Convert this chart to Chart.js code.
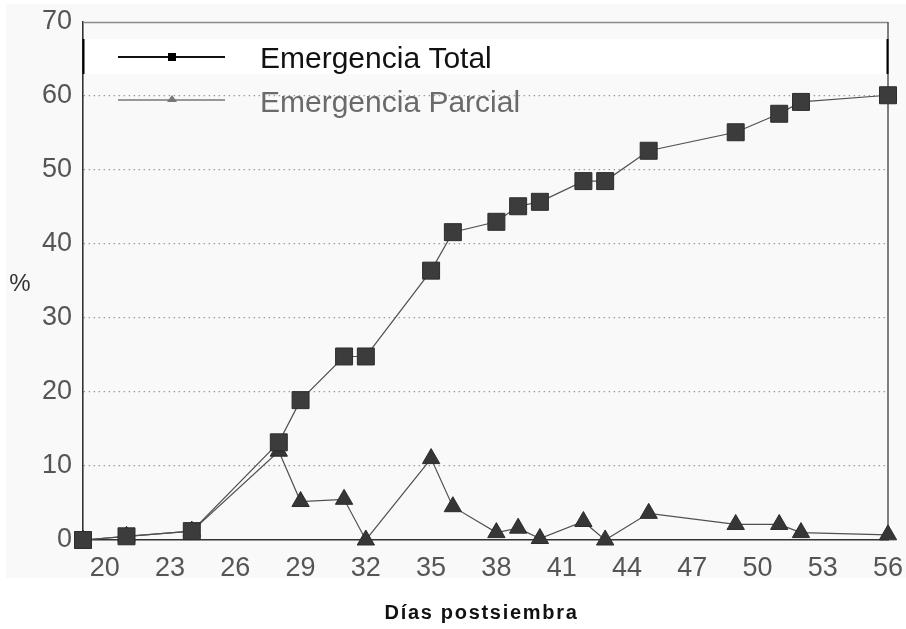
<!DOCTYPE html>
<html>
<head>
<meta charset="utf-8">
<script src="https://cdn.jsdelivr.net/npm/chart.js@4.4.1/dist/chart.umd.min.js"></script>
<style>
  html, body { margin: 0; padding: 0; background: #fff; }
  #wrap { width: 906px; height: 629px; }
</style>
</head>
<body>
<div id="wrap"><canvas id="myChart" width="906" height="629"></canvas></div>
<script>
/*************** data ***************/
const days = [19, 21, 24, 28, 29, 31, 32, 35, 36, 38, 39, 40, 42, 43, 45, 49, 51, 52, 56];
const totalValues = [0, 0.5, 1.2, 13.2, 18.9, 24.8, 24.8, 36.4, 41.6, 43, 45.1, 45.7, 48.5, 48.5, 52.6, 55.1, 57.6, 59.2, 60.1];
const partialValues = [0, 0.5, 1.2, 12, 5.2, 5.5, 0, 11, 4.5, 1, 1.6, 0.2, 2.5, 0, 3.6, 2.1, 2.1, 1, 0.7];
const xTicks = [20, 23, 26, 29, 32, 35, 38, 41, 44, 47, 50, 53, 56];
const yTicks = [0, 10, 20, 30, 40, 50, 60, 70];
const seriesNames = ["Emergencia Total", "Emergencia Parcial"];
const xTitle = "Días postsiembra";
const yTitle = "%";

/*************** helpers ***************/
function toPoints(xs, ys) {
  return xs.map((x, i) => ({ x: x, y: ys[i] }));
}

// background, frame, legend and titles
const paperPlugin = {
  id: "paper",
  beforeDraw(chart) {
    const c = chart.ctx;
    c.save();
    c.fillStyle = "#ffffff";
    c.fillRect(0, 0, chart.width, chart.height);
    c.fillStyle = "#f9f9f9";
    c.fillRect(6, 4, chart.width - 6, 574);
    c.restore();
  },
  beforeDatasetsDraw(chart) {
    const c = chart.ctx;
    const a = chart.chartArea;
    c.save();
    c.strokeStyle = "#8a8a8a";
    c.lineWidth = 1.3;
    c.beginPath();
    c.moveTo(a.left, a.top + 0.5);
    c.lineTo(a.right, a.top + 0.5);
    c.stroke();
    c.strokeStyle = "#555";
    c.lineWidth = 1.5;
    c.beginPath();
    c.moveTo(a.right, a.top);
    c.lineTo(a.right, a.bottom);
    c.stroke();
    c.restore();
  },
  afterDraw(chart) {
    const c = chart.ctx;
    const a = chart.chartArea;
    c.save();

    // legend box
    c.fillStyle = "#ffffff";
    c.fillRect(a.left, 39, a.right - a.left, 35);
    c.strokeStyle = "#000";
    c.lineWidth = 2;
    c.beginPath();
    c.moveTo(a.left + 0.5, 39);
    c.lineTo(a.left + 0.5, 74);
    c.moveTo(a.right - 0.5, 39);
    c.lineTo(a.right - 0.5, 74);
    c.stroke();

    // legend item 1
    c.strokeStyle = "#111";
    c.lineWidth = 2;
    c.beginPath();
    c.moveTo(118, 57);
    c.lineTo(225, 57);
    c.stroke();
    c.fillStyle = "#000";
    c.fillRect(168, 53, 8, 8);
    c.font = "30px 'Liberation Sans', Arial, sans-serif";
    c.textBaseline = "alphabetic";
    c.textAlign = "left";
    c.fillStyle = "#111";
    c.fillText(chart.data.datasets[0].label, 260, 68);

    // legend item 2
    c.strokeStyle = "#777";
    c.lineWidth = 1.5;
    c.beginPath();
    c.moveTo(118, 100);
    c.lineTo(225, 100);
    c.stroke();
    c.fillStyle = "#777";
    c.beginPath();
    c.moveTo(172, 95);
    c.lineTo(177, 102);
    c.lineTo(167, 102);
    c.closePath();
    c.fill();
    c.fillStyle = "#6a6a6a";
    c.fillText(chart.data.datasets[1].label, 260, 112);

    // y title
    c.font = "24px 'Liberation Sans', Arial, sans-serif";
    c.fillStyle = "#333";
    c.textAlign = "center";
    c.textBaseline = "middle";
    c.fillText(yTitle, 20, 284);

    // x title
    c.font = "bold 20px 'Liberation Sans', Arial, sans-serif";
    c.fillStyle = "#111";
    c.textBaseline = "alphabetic";
    c.letterSpacing = "1.7px";
    c.fillText(xTitle, (a.left + a.right) / 2 - 4, 619);
    c.restore();
  }
};

/*************** chart ***************/
const ctx = document.getElementById("myChart").getContext("2d");

new Chart(ctx, {
  type: "line",
  data: {
    datasets: [
      {
        label: seriesNames[0],
        data: toPoints(days, totalValues),
        borderColor: "#505050",
        borderWidth: 1.2,
        pointStyle: "rect",
        pointRadius: 12,
        pointBackgroundColor: "#3c3c3c",
        pointBorderColor: "#2c2c2c",
        pointBorderWidth: 1,
        tension: 0,
        clip: false
      },
      {
        label: seriesNames[1],
        data: toPoints(days, partialValues),
        borderColor: "#505050",
        borderWidth: 1.2,
        pointStyle: "triangle",
        pointRadius: 10,
        pointBackgroundColor: "#363636",
        pointBorderColor: "#2c2c2c",
        pointBorderWidth: 1,
        tension: 0,
        clip: false
      }
    ]
  },
  options: {
    responsive: false,
    animation: false,
    devicePixelRatio: 1,
    layout: {
      padding: { top: 22, right: 18, bottom: 0, left: 0 }
    },
    plugins: {
      legend: { display: false },
      tooltip: { enabled: false }
    },
    scales: {
      x: {
        type: "linear",
        min: 19,
        max: 56,
        afterBuildTicks: (scale) => {
          scale.ticks = xTicks.map(v => ({ value: v }));
        },
        afterFit: (scale) => {
          scale.height = 89;
          scale.paddingLeft = 0;
          scale.paddingRight = 0;
        },
        grid: { display: false, drawTicks: false },
        border: { display: true, color: "#333", width: 1.6 },
        ticks: {
          autoSkip: false,
          maxRotation: 0,
          padding: 12,
          color: "#555",
          font: { family: "'Liberation Sans', Arial, sans-serif", size: 27 }
        }
      },
      y: {
        min: 0,
        max: 70,
        afterBuildTicks: (scale) => {
          scale.ticks = yTicks.map(v => ({ value: v }));
        },
        afterFit: (scale) => {
          scale.width = 83;
          scale.paddingTop = 0;
          scale.paddingBottom = 0;
        },
        grid: {
          drawTicks: false,
          color: (c) => (c.tick && (c.tick.value === 0 || c.tick.value === 70)) ? "rgba(0,0,0,0)" : "#9a9a9a",
          lineWidth: 1.3
        },
        border: { display: true, color: "#333", width: 1.6, dash: [1.5, 3.5] },
        ticks: {
          padding: 11,
          color: "#555",
          font: { family: "'Liberation Sans', Arial, sans-serif", size: 27 }
        }
      }
    }
  },
  plugins: [paperPlugin]
});
</script>
</body>
</html>
